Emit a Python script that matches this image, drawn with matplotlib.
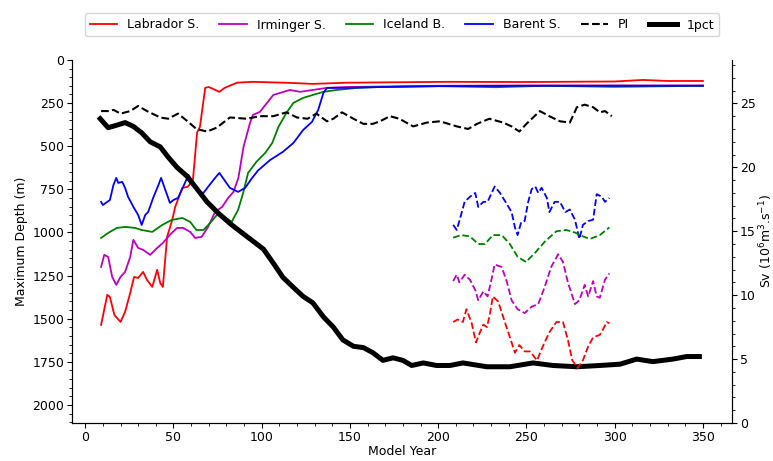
import numpy as np
import matplotlib
matplotlib.use('Agg')
import matplotlib.pyplot as plt
from matplotlib.ticker import MultipleLocator

# Maximum mixed-layer depth (m), 1pct run
lab_yr = [9, 12.5, 14, 16.5, 20, 22.6, 25.5, 27.7, 30, 32.8, 35, 38, 40.8, 42.5, 44, 46.4, 49.3, 51, 55, 58,
          61, 63.4, 65, 68, 70, 76, 79, 86, 95, 116, 129, 148, 205, 250, 300, 316, 330, 350]
lab_d = [1536, 1362, 1374, 1478, 1519, 1461, 1351, 1258, 1264, 1229, 1275, 1316, 1217, 1293, 1316, 1026, 928, 852, 742, 736,
         700, 420, 388, 162, 157, 185, 162, 132, 127, 133, 139, 132, 127, 128, 125, 116, 122, 122]

irm_yr = [9, 10.8, 13, 15.3, 17.6, 20, 22.6, 25.5, 27.3, 30, 32.8, 36.8, 40.8, 44, 48, 52, 55.5, 59.5, 62.3, 66,
          69.6, 73.6, 77.6, 81, 84, 86.8, 89.7, 93.4, 95, 99, 103, 106.6, 110.5, 116, 121.7, 129, 137, 148, 200, 250, 300, 350]
irm_d = [1200, 1130, 1142, 1258, 1304, 1258, 1229, 1142, 1043, 1090, 1101, 1130, 1090, 1061, 1014, 974, 974, 997, 1032, 1026,
         968, 881, 852, 800, 765, 684, 504, 365, 319, 301, 249, 203, 191, 174, 185, 174, 162, 157, 150, 148, 148, 148]

ice_yr = [9, 13, 18, 22.6, 28.3, 32, 38, 43.6, 49, 55, 59.5, 63, 67, 70.8, 74.6, 79, 83, 86.6, 89.5, 92.3,
          97, 102, 106, 109.5, 114, 118, 123.5, 129, 135, 142.6, 154, 167, 200, 233, 260, 300, 350]
ice_d = [1032, 1003, 974, 968, 974, 986, 997, 957, 928, 916, 939, 986, 986, 945, 899, 910, 939, 870, 771, 655,
         591, 539, 481, 388, 307, 249, 220, 203, 185, 174, 162, 157, 152, 158, 150, 156, 150]

bar_yr = [9, 10, 12.5, 14, 16, 17.6, 18.7, 21, 22.6, 24.3, 27.3, 30, 32, 34, 35.7, 38.5, 41.5, 43, 45, 48,
          50, 52.6, 55.5, 58.5, 61, 64, 67, 69.6, 73.6, 76, 78, 82, 86.6, 90.6, 94.6, 98, 104.8, 112, 118,
          123.5, 128.5, 132, 135, 137, 148, 167, 200, 250, 300, 350]
bar_d = [823, 841, 823, 812, 725, 684, 713, 707, 742, 794, 852, 899, 957, 899, 881, 800, 725, 684, 742, 829,
         812, 800, 736, 667, 713, 765, 771, 736, 684, 655, 684, 742, 765, 742, 684, 640, 580, 533, 481,
         406, 359, 290, 191, 162, 162, 157, 152, 150, 150, 150]

# AMOC strength (Sv)
pi_yr = [9, 14, 16, 20, 25.5, 30, 35, 42.5, 47, 52.6, 58, 63, 69, 74.5, 82, 91.5, 99, 106.6, 114, 120,
         126, 131, 137, 140.6, 145.5, 152, 157.6, 163, 167, 172.7, 178, 185.8, 193.6, 201, 210.6, 217, 222,
         229, 236.8, 241.6, 246, 250, 257.6, 263, 269, 274.6, 278.6, 283, 287.8, 291.6, 294.5, 298.4]
pi_sv = [24.4, 24.4, 24.5, 24.2, 24.4, 24.8, 24.4, 23.9, 23.8, 24.2, 23.6, 23.0, 22.8, 23.1, 23.9, 23.8, 24.0, 24.0, 24.3, 23.9,
         23.8, 24.2, 23.6, 23.8, 24.3, 23.8, 23.4, 23.4, 23.6, 24.0, 23.8, 23.2, 23.5, 23.6, 23.2, 23.0, 23.4,
         23.8, 23.5, 23.2, 22.8, 23.4, 24.4, 24.0, 23.6, 23.5, 24.7, 24.9, 24.7, 24.3, 24.4, 24.0]

pct_yr = [8.5, 13, 18, 22.6, 27.3, 32, 36.8, 42.5, 47, 52, 57.7, 63.4, 69, 75.5, 83, 91.5, 101, 106.6, 112, 118,
          123.5, 129, 135, 140.6, 146, 152, 157.6, 163, 168.7, 174.4, 180, 185, 191.6, 199, 206.7, 214, 227.6,
          240.6, 253.7, 265, 278.6, 291.6, 303, 312.5, 321.6, 333, 340.8, 348]
pct_sv = [23.8, 23.1, 23.3, 23.5, 23.2, 22.7, 22.0, 21.6, 20.8, 20.0, 19.3, 18.3, 17.3, 16.4, 15.5, 14.6, 13.6, 12.5, 11.4, 10.6,
          9.9, 9.4, 8.3, 7.5, 6.5, 6.0, 5.9, 5.5, 4.9, 5.1, 4.9, 4.5, 4.7, 4.5, 4.5, 4.7, 4.4,
          4.4, 4.7, 4.5, 4.4, 4.5, 4.6, 5.0, 4.8, 5.0, 5.2, 5.2]

# regional overturning in the PI control (Sv)
bar_pi_yr = [208.5, 210.5, 212, 215, 218, 221, 222.7, 225.6, 228, 230, 232, 235, 239, 241.6, 243.5, 245, 247, 249, 251,
             253, 255, 256.7, 258.6, 261.6, 263, 266, 269, 272, 274.6, 277.5, 280, 282, 285, 287.8, 289.8, 292.7, 294.5, 297]
bar_pi_sv = [15.5, 15.1, 15.8, 17.3, 17.7, 18.0, 16.9, 17.3, 17.3, 17.9, 18.5, 18.0, 17.1, 16.5, 15.3, 14.7, 15.7, 15.8, 17.3,
             18.3, 18.5, 18.0, 18.4, 17.6, 16.5, 17.3, 17.3, 16.5, 16.7, 15.9, 14.4, 15.5, 15.8, 15.9, 17.9, 17.7, 17.3, 17.6]

ice_pi_yr = [208.5, 213, 218, 222.7, 226.5, 231, 236, 240.6, 245, 249.7, 254.8, 260.5, 267, 272.6, 277.5, 282, 286, 291.6, 297]
ice_pi_sv = [14.5, 14.7, 14.6, 14.0, 14.0, 14.7, 14.7, 14.0, 13.0, 12.6, 13.3, 14.2, 15.0, 15.1, 14.9, 14.6, 14.4, 14.7, 15.3]

irm_pi_yr = [208.5, 210.5, 212, 215, 218, 221, 222.7, 225.6, 228, 230, 232, 236, 239, 241.6, 245, 249, 253, 256.7,
             260.5, 264, 268, 270.7, 273.5, 277.5, 280, 283, 285, 287.8, 289.8, 291.6, 294.5, 297]
irm_pi_sv = [11.1, 11.6, 11.0, 11.6, 11.2, 10.4, 9.6, 10.3, 9.9, 11.1, 12.4, 12.2, 11.0, 9.6, 8.9, 8.6, 9.1, 9.3,
             10.7, 12.2, 13.2, 12.6, 11.0, 9.3, 9.6, 10.8, 9.9, 11.1, 9.9, 9.8, 11.2, 11.7]

lab_pi_yr = [208.5, 211, 214, 216, 219, 221.4, 223.7, 225.6, 227.6, 229, 231, 234, 238, 241.6, 243.5, 246, 249, 252,
             256, 259.3, 263, 267, 270.7, 273.5, 276, 279, 282, 285, 287.8, 291.6, 293.3, 295.5, 297]
lab_pi_sv = [7.9, 8.1, 7.9, 8.9, 7.8, 6.3, 7.1, 7.7, 7.5, 8.3, 9.9, 9.5, 7.8, 6.3, 5.5, 6.1, 5.6, 5.6,
             4.9, 6.0, 7.1, 7.9, 7.9, 6.5, 4.9, 4.3, 4.9, 6.0, 6.7, 6.9, 7.3, 7.9, 7.8]

fig, ax = plt.subplots(figsize=(7.73, 4.61), dpi=100)
fig.subplots_adjust(left=0.0931, right=0.947, bottom=0.0824, top=0.870)

ax.plot(lab_yr, lab_d, color='r', lw=1.3, label='Labrador S.')
ax.plot(irm_yr, irm_d, color='m', lw=1.3, label='Irminger S.')
ax.plot(ice_yr, ice_d, color='g', lw=1.3, label='Iceland B.')
ax.plot(bar_yr, bar_d, color='b', lw=1.3, label='Barent S.')
ax.set_xlim(-7.5, 366.5)
ax.set_ylim(2105, 0)
ax.set_xlabel('Model Year', fontsize=9, labelpad=1)
ax.set_ylabel('Maximum Depth (m)', fontsize=9, labelpad=3)
ax.xaxis.set_major_locator(MultipleLocator(50))
ax.xaxis.set_minor_locator(MultipleLocator(10))
ax.yaxis.set_major_locator(MultipleLocator(250))
ax.yaxis.set_minor_locator(MultipleLocator(50))

ax2 = ax.twinx()
ax2.plot(pi_yr, pi_sv, color='k', lw=1.5, ls='--', label='PI')
ax2.plot(pct_yr, pct_sv, color='k', lw=3.6, label='1pct')
ax2.plot(bar_pi_yr, bar_pi_sv, color='b', lw=1.3, ls='--')
ax2.plot(ice_pi_yr, ice_pi_sv, color='g', lw=1.3, ls='--')
ax2.plot(irm_pi_yr, irm_pi_sv, color='m', lw=1.3, ls='--')
ax2.plot(lab_pi_yr, lab_pi_sv, color='r', lw=1.3, ls='--')
ax2.set_ylim(0, 28.4)
ax2.set_ylabel('Sv (10$^6$m$^3$.s$^{-1}$)', fontsize=9, labelpad=1)
ax2.yaxis.set_major_locator(MultipleLocator(5))
ax2.yaxis.set_minor_locator(MultipleLocator(1))

for a in (ax, ax2):
    a.spines['top'].set_visible(False)
    a.tick_params(labelsize=9, direction='out', pad=2)
    a.tick_params(which='minor', length=2)

h1, l1 = ax.get_legend_handles_labels()
h2, l2 = ax2.get_legend_handles_labels()
fig.legend(h1 + h2, l1 + l2, loc='center', bbox_to_anchor=(402 / 773, 1 - 25 / 461),
           ncol=6, fontsize=9, handlelength=2.2, columnspacing=1.6, edgecolor='#cccccc')

plt.savefig('out.png')
